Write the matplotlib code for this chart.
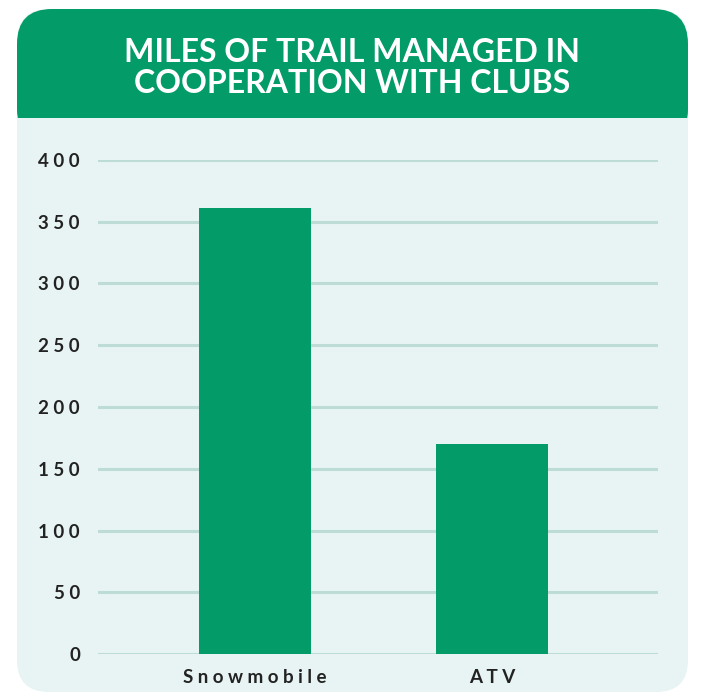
import matplotlib
matplotlib.use('Agg')
import matplotlib.pyplot as plt
from matplotlib.patches import FancyBboxPatch, Rectangle

# data
categories = ['Snowmobile', 'ATV']
miles = [361, 170]
yticks = [0, 50, 100, 150, 200, 250, 300, 350, 400]
title = 'MILES OF TRAIL MANAGED IN\nCOOPERATION WITH CLUBS'

green = '#039b67'
mint = '#e7f4f3'
grid_c = '#bddcd5'
txt_c = '#222222'
fam = ['Lato', 'DejaVu Sans']

def spaced(s):
    # fake letter spacing
    return ' '.join(s)

W, H = 703, 696
fig = plt.figure(figsize=(W / 100, H / 100), dpi=100)
fig.patch.set_facecolor('white')

# card background in pixel coords
bg = fig.add_axes([0, 0, 1, 1], zorder=0)
bg.set_xlim(0, W)
bg.set_ylim(H, 0)
bg.axis('off')
x0, x1, y0, y1, yh = 17, 688, 9, 692, 118
r = 32
bg.add_patch(FancyBboxPatch((x0 + r, y0 + r), x1 - x0 - 2 * r, y1 - y0 - 2 * r,
                            boxstyle='round,pad=%d' % r, fc=mint, ec='none'))
bg.add_patch(FancyBboxPatch((x0 + 35, y0 + 35), x1 - x0 - 70, 100 - 35,
                            boxstyle='round,pad=35', fc=green, ec='none'))
bg.add_patch(Rectangle((x0, yh), x1 - x0, 60, fc=mint, ec='none'))
bg.text((x0 + x1) / 2, 68, title, color='white', fontsize=23, fontweight='bold',
        family=fam, ha='center', va='center', linespacing=1.12)

# bar chart
ax = fig.add_axes([98 / W, 1 - 654 / H, 560 / W, 494 / H], zorder=1)
ax.patch.set_alpha(0)
xs = list(range(len(categories)))
ax.bar(xs, miles, width=0.47, color=green, zorder=2)
ax.set_xlim(-0.662, 1.70)
ax.set_ylim(0, 400)
for v in yticks:
    ax.axhline(v, color=grid_c, lw=2.2, zorder=1)
ax.set_yticks(yticks)
ax.set_yticklabels([spaced(str(v)) for v in yticks], family=fam,
                   fontsize=13.5, fontweight='bold', color=txt_c)
ax.set_xticks(xs)
ax.set_xticklabels([spaced(c) for c in categories], family=fam,
                   fontsize=13.5, fontweight='bold', color=txt_c)
ax.tick_params(axis='y', length=0, pad=13)
ax.tick_params(axis='x', length=0, pad=11)
for s in ax.spines.values():
    s.set_visible(False)

fig.savefig('out.png', dpi=100, facecolor='white')
